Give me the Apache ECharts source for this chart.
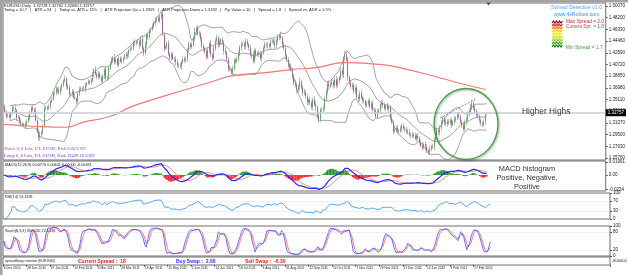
<!DOCTYPE html>
<html>
<head>
<meta charset="utf-8">
<script src="https://cdn.jsdelivr.net/npm/echarts@6/dist/echarts.min.js"></script>
<style>
  html, body { margin: 0; padding: 0; background: #fff; }
  #chart { width: 628px; height: 275px; }
</style>
</head>
<body>
<div id="chart"></div>
<script>
// daily closes, in 1/10000 above 1.0000 (3390 = 1.3390), one row per week
const closes = [
  3390, 3320, 3245, 3260, 3230,  3290, 3380, 3370, 3340, 3220,
  3230, 3160, 3120, 3095, 3115,  3105, 3160, 3215, 3305, 3380,
  3350, 3330, 3175, 3005, 2905,  2945, 2980, 3090, 3365, 3385,
  3370, 3395, 3480, 3510, 3615,  3620, 3685, 3660, 3620, 3700,
  3740, 3810, 3845, 3730, 3700,  3595, 3600, 3640, 3550, 3525,
  3480, 3605, 3670, 3695, 3680,  3680, 3740, 3770, 3800, 3785,
  3810, 3920, 3990, 3920, 3870,  3930, 3860, 3810, 3890, 3990,
  3850, 3860, 4010, 4085, 4145,  4185, 4110, 4155, 4065, 4170,
  4120, 4140, 4170, 4220, 4205,  4235, 4305, 4325, 4330, 4420,
  4410, 4440, 4440, 4380, 4490,  4330, 4250, 4390, 4540, 4505,
  4620, 4630, 4680, 4740, 4780,  4800, 4770, 4830, 4885, 4550,
  4330, 4355, 4410, 4240, 4175,  4230, 4160, 4155, 4110, 4060,
  4055, 4040, 4105, 4160, 4140,  4165, 4305, 4400, 4350, 4390,
  4480, 4595, 4655, 4560, 4570,  4480, 4360, 4330, 4280, 4190,
  4300, 4410, 4225, 4180, 4330,  4450, 4500, 4380, 4430, 4470,
  4420, 4290, 4260, 4150, 3995,  3990, 3940, 4000, 4140, 4120,
  4160, 4230, 4350, 4395, 4405,  4360, 4440, 4390, 4340, 4220,
  4235, 4125, 4290, 4230, 4255,  4240, 4170, 4260, 4335, 4395,
  4380, 4390, 4360, 4440, 4445,  4420, 4375, 4460, 4510, 4535,
  4495, 4390, 4330, 4210, 4145,  4060, 4020, 3985, 3870, 3780,
  3750, 3660, 3710, 3795, 3700,  3615, 3625, 3560, 3470, 3500,
  3455, 3390, 3510, 3440, 3390,  3250, 3180, 3340, 3350, 3370,
  3520, 3635, 3770, 3720, 3760,  3790, 3740, 3830, 3735, 3815,
  3860, 3975, 3910, 4165, 4225,  4150, 3870, 3780, 3715, 3740,
  3640, 3700, 3550, 3520, 3615,  3545, 3500, 3480, 3420, 3450,
  3490, 3395, 3450, 3350, 3325,  3240, 3310, 3340, 3430, 3460,
  3420, 3370, 3410, 3360, 3390,  3230, 3150, 3005, 3025, 3060,
  3000, 3010, 3045, 3090, 3050,  3030, 3005, 2990, 2950, 2935,
  2950, 2930, 2885, 2935, 2890,  2830, 2770, 2745, 2795, 2755,
  2685, 2665, 2720, 2760, 2750,  2870, 2930, 3010, 2990, 3060,
  3145, 3210, 3145, 3120, 3160,  3140, 3180, 3110, 3150, 3190,
  3220, 3270, 3240, 3150, 3100,  3040, 3150, 3200, 3275, 3310,
  3400, 3450, 3380, 3325, 3270,  3240, 3180, 3135, 3110, 3150,
  3273, 3276
];
const firstOpen = 3400;

// wick lengths above / below the body, in pips
const wickUp = [
  30,45,20,35,50,25,40,30,55,20,35,25,45,30,20,40,35,50,25,30,
  45,30,60,25,40,55,30,20,45,35,25,50,30,40,20,35,45,25,55,30,
  40,25,50,30,35,45,20,40,30,55,25,35,45,30,20,50,40,25,35,30,
  45,30,25,55,35,40,20,45,30,25,50,35,40,30,45,25,55,30,20,40,
  35,45,25,30,50,40,20,35,45,30,55,25,40,30,35,50,20,45,30,40,
  25,35,50,30,45,40,55,35,25,60,45,30,40,55,25,35,45,30,50,40,
  30,45,25,55,35,40,30,50,25,45,35,60,30,40,45,25,35,50,30,40,
  45,30,55,25,40,35,50,30,45,25,40,35,55,30,45,40,25,50,35,30,
  40,55,30,45,25,35,50,40,30,45,25,55,35,40,30,45,50,25,35,40,
  30,45,25,50,35,40,55,30,45,25,60,35,40,50,30,45,35,55,40,30,
  50,35,45,60,30,40,55,35,45,30,50,40,35,55,45,30,60,40,35,45,
  40,55,35,45,30,50,40,35,55,45,30,40,50,35,60,45,40,30,50,35,
  45,30,50,35,40,55,30,45,35,40,25,50,35,45,30,40,55,35,30,45,
  35,45,30,50,40,35,55,30,45,35,40,30,50,35,45,30,40,35,50,30,
  40,35,50,30,45,35,40,55,30,45,40,35,50,30,45,40,35,55,30,40,
  35,45,30,50,35,40,30,45,35,50,30,40,45,35,30,50,40,35,45,55,
  40,60,35,45,30,50,35,40,30,45,35,0
];
const wickDown = [
  40,25,50,30,35,45,20,40,30,55,25,35,45,30,20,50,40,25,35,30,
  30,45,20,35,50,60,40,30,25,20,35,25,45,30,20,40,35,50,25,30,
  45,30,25,55,35,40,20,45,30,25,50,35,40,30,45,25,55,30,20,40,
  40,25,50,30,35,45,20,40,30,55,25,35,45,30,20,50,40,25,35,30,
  25,35,50,30,45,40,55,35,25,40,45,30,40,55,25,35,45,30,50,40,
  35,45,25,30,50,40,20,35,45,30,55,25,40,30,35,50,20,45,60,40,
  45,30,55,25,40,35,50,30,45,25,40,35,55,30,45,40,25,50,35,30,
  30,45,25,55,35,40,30,50,25,45,35,60,30,40,45,25,35,50,30,40,
  30,45,25,50,35,40,55,30,45,25,60,35,40,50,30,45,35,55,40,30,
  40,55,30,45,25,35,50,40,30,45,25,55,35,40,30,45,50,25,35,40,
  40,55,35,45,30,50,40,35,55,45,30,40,50,35,60,45,40,30,50,35,
  50,35,45,60,30,40,55,35,45,30,50,40,35,55,45,30,60,40,35,45,
  35,45,30,50,40,35,55,30,45,35,40,30,50,35,45,30,40,35,50,30,
  45,30,50,35,40,55,30,45,35,40,25,50,35,45,30,40,55,35,30,45,
  35,45,30,50,35,40,30,45,35,50,30,40,45,35,30,50,40,35,45,55,
  40,35,50,30,45,35,40,55,30,45,40,35,50,30,45,40,35,55,30,40,
  35,45,30,40,55,35,40,50,45,30,40,5
];

// 200-day moving average: [bar, price]
const ma200 = [
  [0, 1.3115], [20, 1.3084], [43, 1.3068], [54, 1.3147], [73, 1.3243],
  [88, 1.3402], [107, 1.3545], [125, 1.3672], [143, 1.3799], [157, 1.3894],
  [180, 1.3942], [197, 1.3990], [214, 1.4022], [234, 1.4101], [259, 1.4069],
  [277, 1.3990], [298, 1.3863], [316, 1.3751], [330, 1.3672]
];

const quotes = [1.32728, 1.32762, 1.32680, 1.32757];
const priceTicks = [1.2576, 1.2763, 1.2950, 1.3137, 1.3324, 1.3511, 1.3698,
  1.3885, 1.4072, 1.4259, 1.4446, 1.4633, 1.4820, 1.5007];
const macdTicks = [0.01961, 0, -0.0224];
const rsiTicks = [100, 70, 30, 0];
const stochTicks = [100, 80, 20, 0];
const dateLabels = ['6 Dec 2010', '28 Dec 2010', '19 Jan 2011', '10 Feb 2011', '4 Mar 2011',
  '28 Mar 2011', '19 Apr 2011', '11 May 2011', '2 Jun 2011', '24 Jun 2011', '18 Jul 2011',
  '9 Aug 2011', '31 Aug 2011', '22 Sep 2011', '14 Oct 2011', '7 Nov 2011', '29 Nov 2011',
  '21 Dec 2011', '12 Jan 2012', '3 Feb 2012', '27 Feb 2012'];
const barsInView = 413;
const trendFrom = [299, 1.3215];
const trendTo = [323, 1.3515];

// ---- build series ----
const P = v => 1 + v / 10000;
const cats = Array.from({ length: barsInView }, (_, i) => i);
const opens = closes.map((c, i) => (i ? closes[i - 1] : firstOpen));
const highs = closes.map((c, i) => P(Math.max(opens[i], c) + wickUp[i]));
const lows = closes.map((c, i) => P(Math.min(opens[i], c) - wickDown[i]));
const cl = closes.map(P);
const wicks = cl.map((c, i) => [P(opens[i]), c, lows[i], highs[i]]);
const bodies = cl.map((c, i) => {
  const o = P(opens[i]);
  return [o, c, Math.min(o, c), Math.max(o, c)];
});

const avg = a => a.reduce((s, v) => s + v, 0) / a.length;

// bollinger 20, 2
const bbUp = [], bbMid = [], bbLow = [];
cl.forEach((c, i) => {
  const w = cl.slice(Math.max(0, i - 19), i + 1);
  if (w.length < 5) { bbUp.push(null); bbMid.push(null); bbLow.push(null); return; }
  const m = avg(w);
  const sd = Math.sqrt(avg(w.map(v => (v - m) * (v - m))));
  bbUp.push(m + 2 * sd); bbMid.push(m); bbLow.push(m - 2 * sd);
});

// macd 12, 26, 9
function ema(arr, n) {
  const k = 2 / (n + 1);
  let e = arr[0];
  return arr.map(v => (e = v * k + e * (1 - k)));
}
const e12 = ema(cl, 12), e26 = ema(cl, 26);
const macd = cl.map((_, i) => e12[i] - e26[i]);
const signal = macd.map((_, i) => avg(macd.slice(Math.max(0, i - 8), i + 1)));
const hist = macd.map((m, i) => m - signal[i]);

// rsi 14
const rsi = [null];
let ag = 0, al = 0;
for (let i = 1; i < cl.length; i++) {
  const d = cl[i] - cl[i - 1];
  const n = Math.min(i, 14);
  ag = (ag * (n - 1) + Math.max(d, 0)) / n;
  al = (al * (n - 1) + Math.max(-d, 0)) / n;
  rsi.push(al === 0 ? 100 : 100 - 100 / (1 + ag / al));
}

// stochastic 8, 3, 3
const num = [], den = [];
cl.forEach((c, i) => {
  const s = Math.max(0, i - 7);
  const hh = Math.max(...highs.slice(s, i + 1));
  const ll = Math.min(...lows.slice(s, i + 1));
  num.push(c - ll); den.push(hh - ll);
});
const stK = cl.map((_, i) => {
  const s = Math.max(0, i - 2);
  const dn = den.slice(s, i + 1).reduce((a, b) => a + b, 0);
  return dn ? num.slice(s, i + 1).reduce((a, b) => a + b, 0) / dn * 100 : 50;
});
const stD = stK.map((_, i) => avg(stK.slice(Math.max(0, i - 2), i + 1)));

// ---- chart ----
const chart = echarts.init(document.getElementById('chart'));

const font = 'Liberation Sans';
const gridBase = { left: 3, right: 18, show: true, borderColor: '#6e6e6e', borderWidth: 1, backgroundColor: '#fff' };
const tickLabel = { fontSize: 4.5, color: '#222', margin: 3, fontFamily: font };

function waves() {
  const colors = ['#8b0000', '#d01818', '#ff7a00', '#ffd200', '#f2ef00', '#cde800', '#8fd400', '#2fa82a', '#0f7d0f'];
  return colors.map((col, k) => {
    const y = 22 + k * 3;
    const pts = [];
    for (let x = 552; x <= 563; x += 1.5) pts.push([x, y + ((pts.length % 2) ? -1 : 1)]);
    return { type: 'polyline', shape: { points: pts }, style: { stroke: col, lineWidth: 1.1, fill: null }, z: 100 };
  });
}

function txt(text, x, y, fill, size, extra) {
  return {
    type: 'text', z: 100, x, y,
    style: Object.assign({ text, fill, fontSize: size, fontFamily: font }, extra || {})
  };
}

const option = {
  animation: false,
  backgroundColor: '#fff',
  grid: [
    Object.assign({ top: 3, height: 157 }, gridBase),
    Object.assign({ top: 161, height: 30 }, gridBase),
    Object.assign({ top: 193, height: 26 }, gridBase),
    Object.assign({ top: 226, height: 30 }, gridBase),
    Object.assign({ top: 257, height: 8 }, gridBase)
  ],
  xAxis: [0, 1, 2, 3, 4].map(g => ({
    type: 'category', gridIndex: g, data: cats, boundaryGap: true,
    axisLine: { show: false }, splitLine: { show: false },
    axisTick: {
      show: g === 4, length: 1.5, lineStyle: { color: '#444' },
      interval: idx => idx % 16 === 0 && idx / 16 < dateLabels.length
    },
    axisLabel: {
      show: g === 4, fontSize: 3.3, color: '#222', margin: 1.5, align: 'left', fontFamily: font,
      interval: idx => idx % 16 === 0 && idx / 16 < dateLabels.length,
      formatter: (v, idx) => dateLabels[idx / 16] || ''
    }
  })),
  yAxis: [
    {
      gridIndex: 0, position: 'right', min: 1.2544, max: 1.5055,
      axisLine: { show: false }, splitLine: { show: false },
      axisTick: { show: true, length: 2, customValues: priceTicks, lineStyle: { color: '#555' } },
      axisLabel: Object.assign({ customValues: priceTicks, formatter: v => (Math.abs(v - quotes[3]) < 0.003 ? '' : v.toFixed(5)) }, tickLabel)
    },
    {
      gridIndex: 1, position: 'right', min: -0.0245, max: 0.0215,
      axisLine: { show: false }, splitLine: { show: false },
      axisTick: { show: true, length: 2, customValues: macdTicks, lineStyle: { color: '#555' } },
      axisLabel: Object.assign({ customValues: macdTicks, formatter: v => (v === 0 ? '0.00' : v.toFixed(v > 0 ? 5 : 4)) }, tickLabel)
    },
    {
      gridIndex: 2, position: 'right', min: 0, max: 100,
      axisLine: { show: false }, splitLine: { show: false },
      axisTick: { show: true, length: 2, customValues: rsiTicks, lineStyle: { color: '#555' } },
      axisLabel: Object.assign({ customValues: rsiTicks }, tickLabel)
    },
    {
      gridIndex: 3, position: 'right', min: 0, max: 100,
      axisLine: { show: false }, splitLine: { show: false },
      axisTick: { show: true, length: 2, customValues: stochTicks, lineStyle: { color: '#555' } },
      axisLabel: Object.assign({ customValues: stochTicks }, tickLabel)
    },
    { gridIndex: 4, position: 'right', show: false, min: 0, max: 1 }
  ],
  series: [
    {
      type: 'candlestick', xAxisIndex: 0, yAxisIndex: 0, data: wicks, barWidth: 0.6,
      itemStyle: { color: '#a8a8a8', color0: '#a8a8a8', borderColor: '#a8a8a8', borderColor0: '#a8a8a8', borderWidth: 0.8 },
      markLine: {
        silent: true, symbol: 'none', animation: false,
        data: [
          {
            yAxis: quotes[3],
            lineStyle: { color: '#c9ccd2', width: 1.6, type: 'solid' },
            label: {
              show: true, position: 'end', distance: 0, formatter: quotes[3].toFixed(5),
              backgroundColor: '#000', color: '#fff', fontSize: 4.5, padding: [1, 2], fontFamily: font
            }
          },
          [
            { coord: trendFrom, lineStyle: { color: '#5a7ad8', width: 0.9, type: [2, 1.5] }, label: { show: false } },
            { coord: trendTo }
          ]
        ]
      }
    },
    {
      type: 'candlestick', xAxisIndex: 0, yAxisIndex: 0, data: bodies, barWidth: 1.1,
      itemStyle: { color: '#2d9a2d', color0: '#9c2a7c', borderColor: '#2d9a2d', borderColor0: '#9c2a7c', borderWidth: 0.6 }
    },
    { type: 'line', data: bbUp, symbol: 'none', lineStyle: { color: '#8a8a8a', width: 0.8 } },
    { type: 'line', data: bbMid, symbol: 'none', lineStyle: { color: '#8a8a8a', width: 0.8 } },
    { type: 'line', data: bbLow, symbol: 'none', lineStyle: { color: '#8a8a8a', width: 0.8 } },
    { type: 'line', data: ma200, symbol: 'none', smooth: 0.5, lineStyle: { color: '#f07a7a', width: 1.2 } },

    {
      type: 'bar', xAxisIndex: 1, yAxisIndex: 1, barCategoryGap: 0,
      data: hist.map(v => ({ value: v, itemStyle: { color: v >= 0 ? '#2a8f2a' : '#ff1f1f' } }))
    },
    { type: 'line', xAxisIndex: 1, yAxisIndex: 1, data: signal, symbol: 'none', lineStyle: { color: '#ff8080', width: 0.9 } },
    { type: 'line', xAxisIndex: 1, yAxisIndex: 1, data: macd, symbol: 'none', lineStyle: { color: '#1f2cff', width: 1.2 } },

    {
      type: 'line', xAxisIndex: 2, yAxisIndex: 2, data: rsi, symbol: 'none', lineStyle: { color: '#3d9bff', width: 0.9 },
      markLine: {
        silent: true, symbol: 'none', label: { show: false },
        lineStyle: { color: '#cfcfcf', width: 0.6, type: 'dotted' },
        data: [{ yAxis: 70 }, { yAxis: 30 }]
      }
    },

    { type: 'line', xAxisIndex: 3, yAxisIndex: 3, data: stD, symbol: 'none', lineStyle: { color: '#ff5a5a', width: 0.8 } },
    {
      type: 'line', xAxisIndex: 3, yAxisIndex: 3, data: stK, symbol: 'none', lineStyle: { color: '#4343ff', width: 0.8 },
      markLine: {
        silent: true, symbol: 'none', label: { show: false },
        lineStyle: { color: '#cfcfcf', width: 0.6, type: 'dotted' },
        data: [{ yAxis: 80 }, { yAxis: 20 }]
      }
    }
  ],
  graphic: [
    { type: 'rect', z: 99, shape: { x: 0, y: 0, width: 628, height: 2.5 }, style: { fill: '#a3a3a3' } },
    { type: 'rect', z: 99, shape: { x: 0, y: 0, width: 2.5, height: 275 }, style: { fill: '#a3a3a3' } },
    { type: 'polygon', z: 100, shape: { points: [[486, 2.5], [491, 2.5], [488.5, 5.5]] }, style: { fill: '#555' } },

    txt('EURUSD,Daily  ' + quotes.map(q => q.toFixed(5)).join(' '), 4, 4, '#222', 4),
    txt('Today = 10.7   |   ATR = 94   |   Today vs. ATR = 11%   |   ATR Projection Up = 1.3359   |   ATR Projection Down = 1.3182   |   Pip Value = 10   |   Spread = 1.8   |   Spread vs. ADR = 1.9%', 4, 8, '#222', 4),

    txt('Spread Detective v1.0', 551, 5, '#5aa6f0', 5.2),
    txt('www.4xRobots.com', 554, 12, '#3f8fe0', 5.2),
    txt('Max Spread = 2.0', 566, 19, '#b53030', 4.8),
    txt('Current Spr. = 1.8', 566, 24, '#c23a3a', 4.8),
    txt('Min Spread = 1.7', 566, 45.5, '#44a044', 4.8),
    ...waves(),

    txt('Short: 0, 0 Lots, P/L 0 USD, Risk 0.00 USD', 4, 146, '#b03cb0', 4.6, { fontFamily: 'Liberation Serif' }),
    txt('Long: 0, 0 Lots, P/L 0 USD, Risk 12429.10 USD', 4, 153, '#5b3be6', 4.6, { fontFamily: 'Liberation Serif' }),

    {
      type: 'ellipse', z: 100, shape: { cx: 466, cy: 124, rx: 32, ry: 35.5 },
      style: { fill: null, stroke: '#46a046', lineWidth: 1.4, shadowColor: 'rgba(0,0,0,0.35)', shadowBlur: 2, shadowOffsetX: 1, shadowOffsetY: 1 }
    },
    txt('Higher Highs', 522, 108, '#3a3a3a', 8.4),

    txt('MACD histogram', 527, 165.5, '#333', 7.4, { align: 'center' }),
    txt('Positive, Negative,', 527, 174.5, '#333', 7.4, { align: 'center' }),
    txt('Positive', 527, 183.5, '#333', 7.4, { align: 'center' }),

    txt('MACD(12,26,9) 0.00770 0.00401 0.00000 -0.00481', 5, 163, '#222', 3.8),
    txt('RSI(14) 53.4331', 5, 195, '#222', 3.8),
    txt('Stoch(8,3,3) 35.9020 22.1436', 5, 228.5, '#222', 3.8),

    txt('spreadSwap monitor (EURUSD)', 5, 259.3, '#222', 3.5),
    txt('Current Spread :  18', 78, 258.7, '#ee1c1c', 5, { fontWeight: 'bold' }),
    txt('Buy Swap :  2.88', 176, 258.7, '#2a3cff', 5, { fontWeight: 'bold' }),
    txt('Sell Swap :  -6.30', 245, 258.7, '#ee1c1c', 5, { fontWeight: 'bold' }),
    txt('-800000', 612, 258.5, '#222', 4)
  ]
};

chart.setOption(option);
</script>
</body>
</html>
